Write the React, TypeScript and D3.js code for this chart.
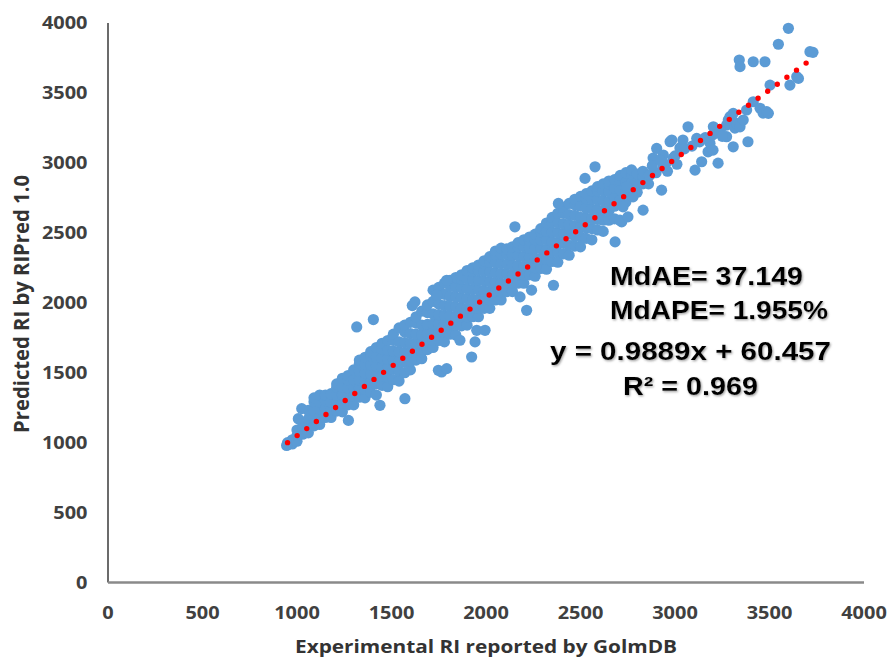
import * as d3 from 'd3';

// Golm RI scatter: experimental (x) vs predicted (y)
const xTicks = [0, 500, 1000, 1500, 2000, 2500, 3000, 3500, 4000];
const yTicks = [0, 500, 1000, 1500, 2000, 2500, 3000, 3500, 4000];

// dense part of the cloud, read column by column: [experimental RI, predicted RIs]
const bandColumns: [number, number[]][] = [
  [950, [985, 1000]],
  [975, [990, 1020]],
  [1000, [1010, 1050, 1090]],
  [1030, [1060, 1100, 1120]],
  [1060, [1070, 1120, 1170, 1230]],
  [1090, [1120, 1175, 1230, 1290, 1320]],
  [1120, [1130, 1180, 1240, 1290, 1340]],
  [1150, [1180, 1240, 1300, 1340]],
  [1180, [1180, 1230, 1290, 1350]],
  [1210, [1225, 1285, 1340, 1395, 1420]],
  [1240, [1220, 1280, 1340, 1400, 1460]],
  [1270, [1270, 1330, 1390, 1450, 1480]],
  [1300, [1270, 1330, 1390, 1450, 1520]],
  [1330, [1325, 1390, 1450, 1510, 1565, 1590]],
  [1360, [1320, 1380, 1440, 1500, 1560, 1610]],
  [1390, [1360, 1430, 1490, 1555, 1620, 1650]],
  [1420, [1340, 1420, 1480, 1550, 1610, 1680]],
  [1450, [1410, 1475, 1540, 1605, 1670, 1710]],
  [1480, [1400, 1470, 1530, 1600, 1660, 1730]],
  [1510, [1450, 1525, 1590, 1655, 1730, 1775]],
  [1540, [1440, 1510, 1580, 1650, 1720, 1820]],
  [1570, [1500, 1575, 1645, 1715, 1790, 1840]],
  [1600, [1520, 1580, 1640, 1710, 1780, 1860]],
  [1630, [1590, 1650, 1710, 1775, 1855, 1900]],
  [1660, [1600, 1650, 1710, 1770, 1840, 1940]],
  [1690, [1665, 1720, 1780, 1845, 1930, 1985]],
  [1720, [1680, 1730, 1790, 1850, 1920, 2010, 2090]],
  [1750, [1730, 1790, 1850, 1915, 1990, 2070, 2110]],
  [1780, [1720, 1790, 1850, 1910, 1980, 2060, 2140]],
  [1810, [1775, 1840, 1905, 1975, 2045, 2120, 2160]],
  [1840, [1770, 1840, 1900, 1970, 2040, 2110, 2180]],
  [1870, [1835, 1900, 1965, 2035, 2105, 2170, 2200]],
  [1900, [1840, 1900, 1960, 2030, 2100, 2170, 2230]],
  [1930, [1900, 1960, 2025, 2095, 2165, 2225, 2250]],
  [1960, [1900, 1960, 2020, 2090, 2160, 2230, 2270]],
  [1990, [1960, 2020, 2085, 2155, 2225, 2280, 2300]],
  [2020, [1960, 2020, 2080, 2150, 2220, 2290, 2330]],
  [2050, [2020, 2080, 2145, 2215, 2285, 2345, 2370]],
  [2080, [2020, 2080, 2140, 2210, 2280, 2350, 2390]],
  [2110, [2080, 2140, 2205, 2275, 2345, 2385]],
  [2140, [2080, 2140, 2200, 2270, 2340, 2400]],
  [2170, [2140, 2200, 2265, 2335, 2400, 2430]],
  [2200, [2140, 2200, 2260, 2330, 2400, 2450]],
  [2230, [2200, 2260, 2325, 2390, 2445, 2470]],
  [2260, [2190, 2250, 2320, 2390, 2450, 2490]],
  [2290, [2245, 2315, 2385, 2450, 2505, 2530]],
  [2320, [2240, 2310, 2380, 2450, 2510, 2570]],
  [2350, [2295, 2365, 2435, 2505, 2575, 2610]],
  [2380, [2290, 2360, 2430, 2500, 2570, 2640]],
  [2410, [2350, 2425, 2495, 2565, 2640, 2680]],
  [2440, [2340, 2410, 2490, 2560, 2630, 2710]],
  [2470, [2405, 2475, 2550, 2625, 2700, 2740]],
  [2500, [2400, 2470, 2540, 2610, 2690, 2760]],
  [2530, [2460, 2535, 2605, 2675, 2745, 2780]],
  [2560, [2450, 2530, 2600, 2670, 2740, 2800]],
  [2590, [2520, 2595, 2665, 2735, 2800, 2830]],
  [2620, [2510, 2590, 2660, 2730, 2800, 2850]],
  [2650, [2590, 2655, 2725, 2795, 2850, 2870]],
  [2680, [2600, 2690, 2750, 2820, 2880]],
  [2710, [2735, 2805, 2875, 2910]],
  [2740, [2720, 2790, 2860, 2930]],
  [2770, [2790, 2855, 2920, 2950]],
  [2800, [2790, 2860, 2920]],
  [2830, [2850, 2910, 2940]],
  [2860, [2850, 2910]],
];

// stray points off the main band
const scatteredPoints: [number, number][] = [
  [945, 980], [1007, 1171], [1025, 1243], [1272, 1159], [1439, 1267], [1571, 1314],
  [1316, 1827], [1404, 1880], [1610, 1980], [1624, 2006], [1739, 2054], [1792, 2161],
  [1748, 1517], [1765, 1505], [1792, 1529], [1862, 1732], [1924, 1612], [1942, 1720],
  [1951, 1803], [1995, 1803], [2153, 2543], [2180, 2042], [2215, 1946], [2241, 2090],
  [2357, 2125], [2383, 2710], [2577, 2972], [2524, 2889], [2683, 2435], [2718, 2578],
  [2709, 2590], [2751, 2614], [2725, 2686], [2778, 2757], [2831, 2662], [2744, 2829],
];

// sparse upper range
const highRangePoints: [number, number][] = [
  [2868, 2913], [2884, 3034], [2903, 3103], [2929, 2805], [2937, 2972], [2938, 3056],
  [2974, 3151], [2983, 3163], [2990, 3034], [3026, 3106], [3035, 3115], [3042, 3163],
  [3069, 3258], [3106, 2948], [3115, 3175], [3141, 3008], [3175, 3079], [3185, 3141],
  [3201, 3091], [3203, 3258], [3228, 2998], [3273, 3270], [3273, 3187], [3282, 3306],
  [3291, 3330], [3308, 3354], [3308, 3115], [3317, 3249], [3326, 3282], [3344, 3258],
  [3361, 3306], [3379, 3378], [3386, 3151], [3414, 3437], [3450, 3390], [3466, 3356],
  [3485, 3366], [3494, 3354], [3503, 3556], [3547, 3848], [3600, 3962], [3608, 3556],
  [3644, 3616], [3653, 3604], [3714, 3795], [3730, 3790], [3340, 3735], [3344, 3688],
  [3414, 3723], [3476, 3723], [2900, 2930], [2950, 2990], [3000, 3050], [3050, 3100],
  [3090, 3120], [3130, 3150], [2960, 2940], [3010, 2990], [3160, 3180], [3200, 3200],
  [3240, 3230], [3250, 3190], [2880, 2980], [2920, 3020],
];

const trendSlope = 0.9889;
const trendIntercept = 60.457;
const trendRange = [950, 3720];

const statLines = ['MdAE= 37.149', 'MdAPE= 1.955%', 'y = 0.9889x + 60.457', 'R\u00b2 = 0.969'];

const W = 889, H = 657;
const tickFont = '"Open Sans", sans-serif';
const statFont = '"Liberation Sans", Arial, sans-serif';

export default function App() {
  const x = d3.scaleLinear().domain([0, 4000]).range([108, 864]);
  const y = d3.scaleLinear().domain([0, 4000]).range([582.5, 23]);

  const points: [number, number][] = [];
  bandColumns.forEach(([ex, preds]) => preds.forEach(p => points.push([ex, p])));
  scatteredPoints.forEach(p => points.push(p));
  highRangePoints.forEach(p => points.push(p));

  const trend = d3.line<number>()
    .x(d => x(d))
    .y(d => y(trendSlope * d + trendIntercept))(trendRange);

  // where each stat line sits: left edge, baseline, drawn width
  const statPos = [
    [610, 285, 193],
    [610, 318.5, 218],
    [550, 360, 281],
    [623, 395, 135],
  ];

  return (
    <svg width={W} height={H} style={{ position: 'absolute', left: 0, top: 0, background: '#fff' }}>
      <defs>
        <filter id="shadow" x="-5%" y="-20%" width="110%" height="140%">
          <feDropShadow dx="1" dy="1.2" stdDeviation="0.8" floodColor="#777" floodOpacity="0.7" />
        </filter>
      </defs>

      <line x1={x(0)} x2={x(0)} y1={y(0)} y2={y(4000)} stroke="#3a3a3a" strokeWidth={1.5} />
      <line x1={x(0)} x2={x(4000)} y1={y(0)} y2={y(0)} stroke="#8a8a8a" strokeWidth={2.6} />

      {yTicks.map(t => (
        <g key={'y' + t} transform={`translate(87.5,${y(t) + 6.3}) scale(1.14,1)`}>
          <text textAnchor="end" fontFamily={tickFont} fontWeight={700} fontSize={17.5} fill="#404040">{t}</text>
        </g>
      ))}
      {xTicks.map(t => (
        <g key={'x' + t} transform={`translate(${x(t)},619) scale(1.14,1)`}>
          <text textAnchor="middle" fontFamily={tickFont} fontWeight={700} fontSize={17.5} fill="#404040">{t}</text>
        </g>
      ))}

      {points.map((p, i) => (
        <circle key={i} cx={x(p[0])} cy={y(p[1])} r={5.6} fill="#5B9BD5" />
      ))}

      <path d={trend || ''} fill="none" stroke="#FF0000" strokeWidth={5.4} strokeLinecap="round" strokeDasharray="0 11.9" />

      <text x={486} y={653} textAnchor="middle" fontFamily={tickFont} fontWeight={700} fontSize={18.6}
        fill="#333" textLength={382} lengthAdjust="spacingAndGlyphs">Experimental RI reported by GolmDB</text>
      <g transform="translate(28.5,304) scale(1.15,1) rotate(-90)">
        <text x={0} y={0} textAnchor="middle" fontFamily={tickFont} fontWeight={700} fontSize={19}
          fill="#333" textLength={258} lengthAdjust="spacingAndGlyphs">Predicted RI by RIPred 1.0</text>
      </g>

      {statLines.map((s, i) => (
        <text key={s} x={statPos[i][0]} y={statPos[i][1]} fontFamily={statFont} fontWeight={700} fontSize={25}
          fill="#000" filter="url(#shadow)" textLength={statPos[i][2]} lengthAdjust="spacingAndGlyphs">{s}</text>
      ))}
    </svg>
  );
}
